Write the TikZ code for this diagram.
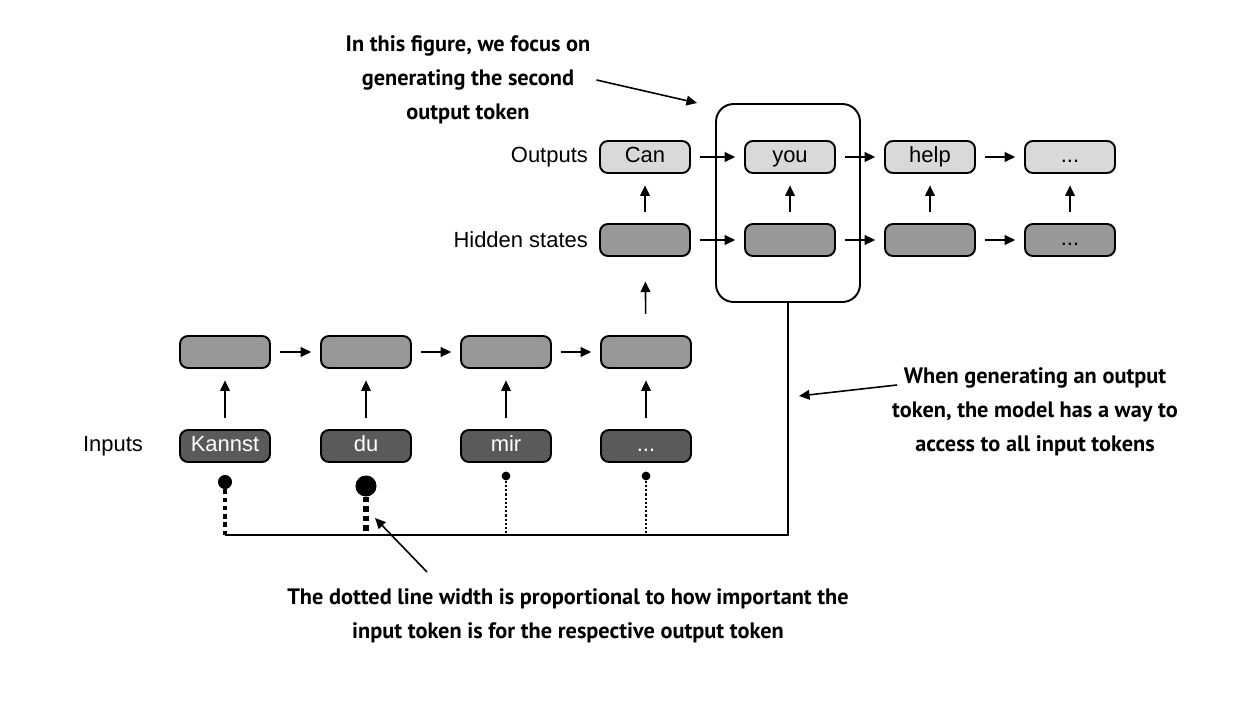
\documentclass[tikz,border=0pt]{standalone}
\usepackage{fontspec}
\setmainfont{Liberation Sans}
\newfontfamily\notefont{PT Sans}
\usetikzlibrary{positioning, arrows.meta}
\definecolor{outgray}{RGB}{217,217,217}
\definecolor{hidgray}{RGB}{152,152,152}
\definecolor{ingray}{RGB}{90,90,90}

\begin{document}
\begin{tikzpicture}[x=0.02cm, y=-0.02cm,
    box/.style={draw, line width=1.1pt, rounded corners=4.5pt, minimum width=1.8cm, minimum height=0.64cm, inner sep=0pt, text height=9pt, text depth=2.5pt, font=\fontsize{12.5}{14}\selectfont},
    outbox/.style={box, fill=outgray},
    hidbox/.style={box, fill=hidgray},
    inbox/.style={box, fill=ingray, text=white},
    arr/.style={-{Triangle[length=6pt, width=5.5pt]}, line width=0.9pt},
    note/.style={font=\notefont\bfseries\fontsize{12.7}{19.3}\selectfont, align=center},
    lbl/.style={font=\fontsize{12.5}{14}\selectfont},
    dot/.style={circle, fill, inner sep=0pt}]
    \useasboundingbox (0,0) rectangle (1241,716);

    % Nodes
    \node[outbox] (can) at (645,157) {Can};
    \node[outbox] (you) at (790,157) {you};
    \node[outbox] (help) at (930,157) {help};
    \node[outbox] (odots) at (1070,157) {...};
    \node[hidbox] (h1) at (645,240) {};
    \node[hidbox] (h2) at (790,240) {};
    \node[hidbox] (h3) at (930,240) {};
    \node[hidbox] (h4) at (1070,240) {...};
    \node[hidbox] (e1) at (225,352) {};
    \node[hidbox] (e2) at (366,352) {};
    \node[hidbox] (e3) at (506,352) {};
    \node[hidbox] (e4) at (646,352) {};
    \node[inbox] (kannst) at (225,446) {Kannst};
    \node[inbox] (du) at (366,446) {du};
    \node[inbox] (mir) at (506,446) {mir};
    \node[inbox] (idots) at (646,446) {...};
    \node[lbl, left=0.1cm of can] (outlbl) {Outputs};
    \node[lbl, left=0.1cm of h1] (hidlbl) {Hidden states};
    \node[lbl, left=0.6cm of kannst] (inlbl) {Inputs};
    \node[draw, line width=1.1pt, rounded corners=10pt, minimum width=2.88cm, minimum height=3.96cm] (focus) at (788,203) {};

    % Attention dots
    \node[dot, minimum size=8pt] (w1) at (225,482) {};
    \node[dot, minimum size=12pt] (w2) at (366,486) {};
    \node[dot, minimum size=5pt] (w3) at (506,476) {};
    \node[dot, minimum size=5pt] (w4) at (646,476) {};
    \coordinate (base) at (225,535);

    % Notes
    \node[note] (topnote) at (468,80) {In this figure, we focus on\\generating the second\\output token};
    \node[note] (rightnote) at (1035,412) {When generating an output\\token, the model has a way to\\access to all input tokens};
    \node[note] (botnote) at (568,616) {The dotted line width is proportional to how important the\\input token is for the respective output token};
    \coordinate (toptip) at (697,103);
    \coordinate (rstart) at (897,385);
    \coordinate (rtip) at (799,396);
    \coordinate (bstart) at (427,572);
    \coordinate (btip) at (375,518);

    % Edges
    \foreach \a/\b in {can/you, you/help, help/odots, h1/h2, h2/h3, h3/h4, e1/e2, e2/e3, e3/e4}
        \draw[arr, shorten <=5pt, shorten >=5pt] (\a) -- (\b);
    \foreach \a/\b in {h1/can, h2/you, h3/help, h4/odots, kannst/e1, du/e2, mir/e3, idots/e4}
        \draw[arr, shorten <=6pt, shorten >=6.5pt] (\a) -- (\b);
    \draw[arr, shorten <=12pt, shorten >=14pt] (e4) -- (h1);
    \draw[line width=1.1pt] (focus.south) |- (base);
    \draw[line width=2pt, dash pattern=on 2.5pt off 2.2pt] (w1) -- (w1 |- base);
    \draw[line width=2.9pt, dash pattern=on 3pt off 2.4pt] (w2) -- (w2 |- base);
    \draw[line width=0.9pt, dash pattern=on 1.2pt off 1.2pt] (w3) -- (w3 |- base);
    \draw[line width=0.9pt, dash pattern=on 1.2pt off 1.2pt] (w4) -- (w4 |- base);
    \draw[arr] (topnote.east) -- (toptip);
    \draw[arr] (rstart) -- (rtip);
    \draw[arr] (bstart) -- (btip);
\end{tikzpicture}
\end{document}
